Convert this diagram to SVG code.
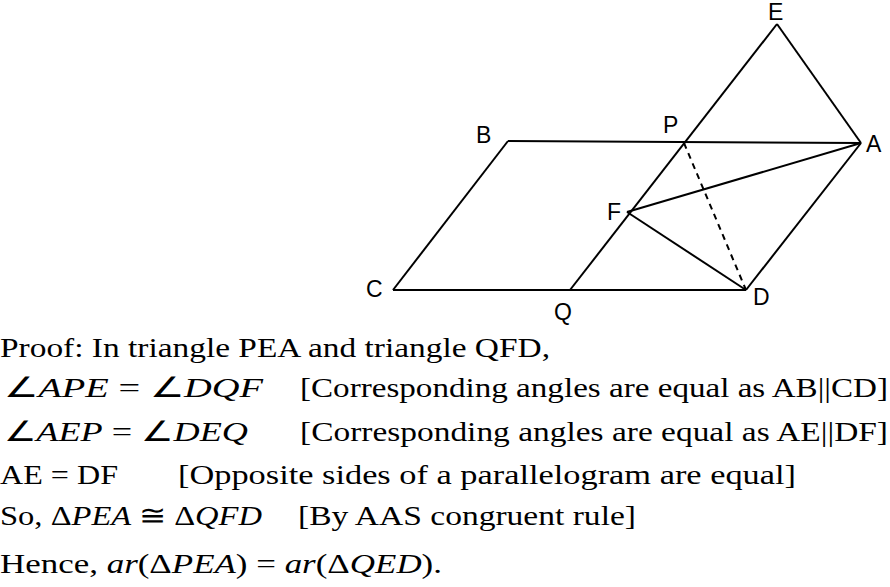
<svg xmlns="http://www.w3.org/2000/svg" width="890" height="587" viewBox="0 0 890 587">
<style>
.l{stroke:#000;stroke-width:2;fill:none}
.lb{font-family:"Liberation Sans",Arial,sans-serif;font-size:23px;fill:#000}
.t{font-family:"Liberation Serif","Times New Roman",serif;font-size:28px;fill:#000}
.i{font-style:italic}
</style>
<rect width="890" height="587" fill="#fff"/>
<g id="connectors">
<line class="l" x1="508" y1="141" x2="861" y2="143"/>
<line class="l" x1="393" y1="290" x2="746" y2="290"/>
<line class="l" x1="508" y1="141" x2="393" y2="290"/>
<line class="l" x1="861" y1="143" x2="746" y2="290"/>
<line class="l" x1="777" y1="24" x2="861" y2="143"/>
<line class="l" x1="777" y1="24" x2="570" y2="290"/>
<line class="l" x1="627" y1="212" x2="861" y2="143"/>
<line class="l" x1="627" y1="212" x2="746" y2="290"/>
<line class="l" x1="684" y1="143" x2="746" y2="290" stroke-dasharray="6,5"/>
</g>
<g id="labels">
<text class="lb" x="768" y="20">E</text>
<text class="lb" x="476" y="143">B</text>
<text class="lb" x="663" y="133">P</text>
<text class="lb" x="866" y="152">A</text>
<text class="lb" x="607" y="220">F</text>
<text class="lb" x="366" y="297">C</text>
<text class="lb" x="554" y="320">Q</text>
<text class="lb" x="753" y="305">D</text>
</g>
<g id="text">
<text class="t" x="0" y="357" textLength="550" lengthAdjust="spacingAndGlyphs">Proof: In triangle PEA and triangle QFD,</text>
<text class="t" x="4" y="397" textLength="259" lengthAdjust="spacingAndGlyphs"><tspan>∠</tspan><tspan class="i">APE</tspan> = ∠<tspan class="i">DQF</tspan></text>
<text class="t" x="300" y="397" textLength="588" lengthAdjust="spacingAndGlyphs">[Corresponding angles are equal as AB||CD]</text>
<text class="t" x="4" y="441" textLength="244" lengthAdjust="spacingAndGlyphs"><tspan>∠</tspan><tspan class="i">AEP</tspan> = ∠<tspan class="i">DEQ</tspan></text>
<text class="t" x="300" y="441" textLength="588" lengthAdjust="spacingAndGlyphs">[Corresponding angles are equal as AE||DF]</text>
<text class="t" x="0" y="484" textLength="118" lengthAdjust="spacingAndGlyphs">AE = DF</text>
<text class="t" x="178" y="484" textLength="618" lengthAdjust="spacingAndGlyphs">[Opposite sides of a parallelogram are equal]</text>
<text class="t" x="0" y="525" textLength="262" lengthAdjust="spacingAndGlyphs">So,  Δ<tspan class="i">PEA</tspan> ≅ Δ<tspan class="i">QFD</tspan></text>
<text class="t" x="298" y="525" textLength="338" lengthAdjust="spacingAndGlyphs">[By AAS congruent rule]</text>
<text class="t" x="0" y="573" textLength="442" lengthAdjust="spacingAndGlyphs">Hence,  <tspan class="i">ar</tspan>(Δ<tspan class="i">PEA</tspan>) = <tspan class="i">ar</tspan>(Δ<tspan class="i">QED</tspan>).</text>
</g>
</svg>
